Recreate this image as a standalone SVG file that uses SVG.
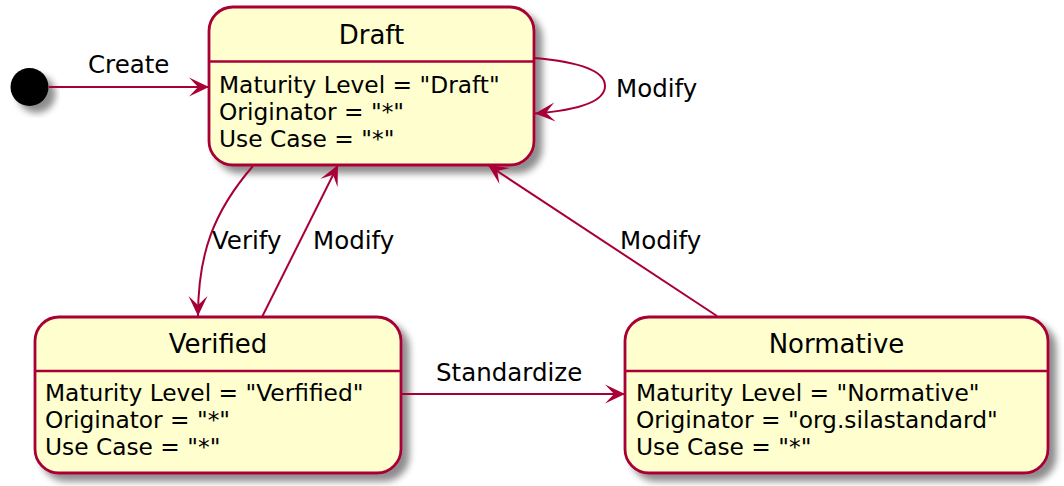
<svg xmlns="http://www.w3.org/2000/svg" width="1064" height="486" viewBox="0 0 1064 486">
<style>
.box{fill:#FEFECE;stroke:#A80036;stroke-width:2.8}
.sep{stroke:#A80036;stroke-width:2.4}
.edge{fill:none;stroke:#A80036;stroke-width:2}
.title{font-family:"DejaVu Sans",sans-serif;font-size:26px;fill:#000;text-anchor:middle}
.attr{font-family:"DejaVu Sans",sans-serif;font-size:23.3px;fill:#000}
.lbl{font-family:"DejaVu Sans",sans-serif;font-size:24.5px;fill:#000}
</style>
<defs>
<filter id="sh" x="-20%" y="-20%" width="150%" height="150%">
<feGaussianBlur in="SourceAlpha" stdDeviation="3.5" result="b"/>
<feOffset in="b" dx="7" dy="7" result="o"/>
<feComponentTransfer in="o" result="c"><feFuncA type="linear" slope="0.45"/></feComponentTransfer>
<feMerge><feMergeNode in="c"/><feMergeNode in="SourceGraphic"/></feMerge>
</filter>
<marker id="ah" markerUnits="userSpaceOnUse" viewBox="0 0 24 22" markerWidth="24" markerHeight="22" refX="22" refY="11" orient="auto">
<path d="M22,11 L2,1.5 L11,11 L2,20.5 Z" fill="#A80036"/>
</marker>
</defs>

<g id="start">
<circle cx="29.5" cy="87" r="19" fill="#000" filter="url(#sh)"/>
</g>

<g id="Draft">
<rect class="box" x="209" y="7" width="325" height="158" rx="24" ry="24" filter="url(#sh)"/>
<line class="sep" x1="209" y1="61.5" x2="534" y2="61.5"/>
<text class="title" x="371.5" y="44">Draft</text>
<text class="attr" x="219" y="93">Maturity Level = "Draft"</text>
<text class="attr" x="219" y="120">Originator = "*"</text>
<text class="attr" x="219" y="147">Use Case = "*"</text>
</g>

<g id="Verified">
<rect class="box" x="35" y="317" width="366" height="156" rx="24" ry="24" filter="url(#sh)"/>
<line class="sep" x1="35" y1="371" x2="401" y2="371"/>
<text class="title" x="218" y="353">Verified</text>
<text class="attr" x="45" y="401">Maturity Level = "Verfified"</text>
<text class="attr" x="45" y="428">Originator = "*"</text>
<text class="attr" x="45" y="455">Use Case = "*"</text>
</g>

<g id="Normative">
<rect class="box" x="625" y="317" width="423" height="156" rx="24" ry="24" filter="url(#sh)"/>
<line class="sep" x1="625" y1="371" x2="1048" y2="371"/>
<text class="title" x="836.5" y="353">Normative</text>
<text class="attr" x="636" y="401">Maturity Level = "Normative"</text>
<text class="attr" x="636" y="428">Originator = "org.silastandard"</text>
<text class="attr" x="636" y="455">Use Case = "*"</text>
</g>

<g id="connectors">
<path class="edge" d="M49,87 L209,87" marker-end="url(#ah)"/>
<path class="edge" d="M534,58 C582,62 605,72 605,86 C605,101 580,110 535,113.5" marker-end="url(#ah)"/>
<path class="edge" d="M253,166 C213,212 198,255 198,316" marker-end="url(#ah)"/>
<path class="edge" d="M262,317 L338,165" marker-end="url(#ah)"/>
<path class="edge" d="M717,316 L488,165" marker-end="url(#ah)"/>
<path class="edge" d="M401,394 L625,394" marker-end="url(#ah)"/>
<text class="lbl" x="88" y="73">Create</text>
<text class="lbl" x="616" y="97">Modify</text>
<text class="lbl" x="212" y="249">Verify</text>
<text class="lbl" x="313" y="249">Modify</text>
<text class="lbl" x="620" y="249">Modify</text>
<text class="lbl" x="436" y="381">Standardize</text>
</g>
</svg>
